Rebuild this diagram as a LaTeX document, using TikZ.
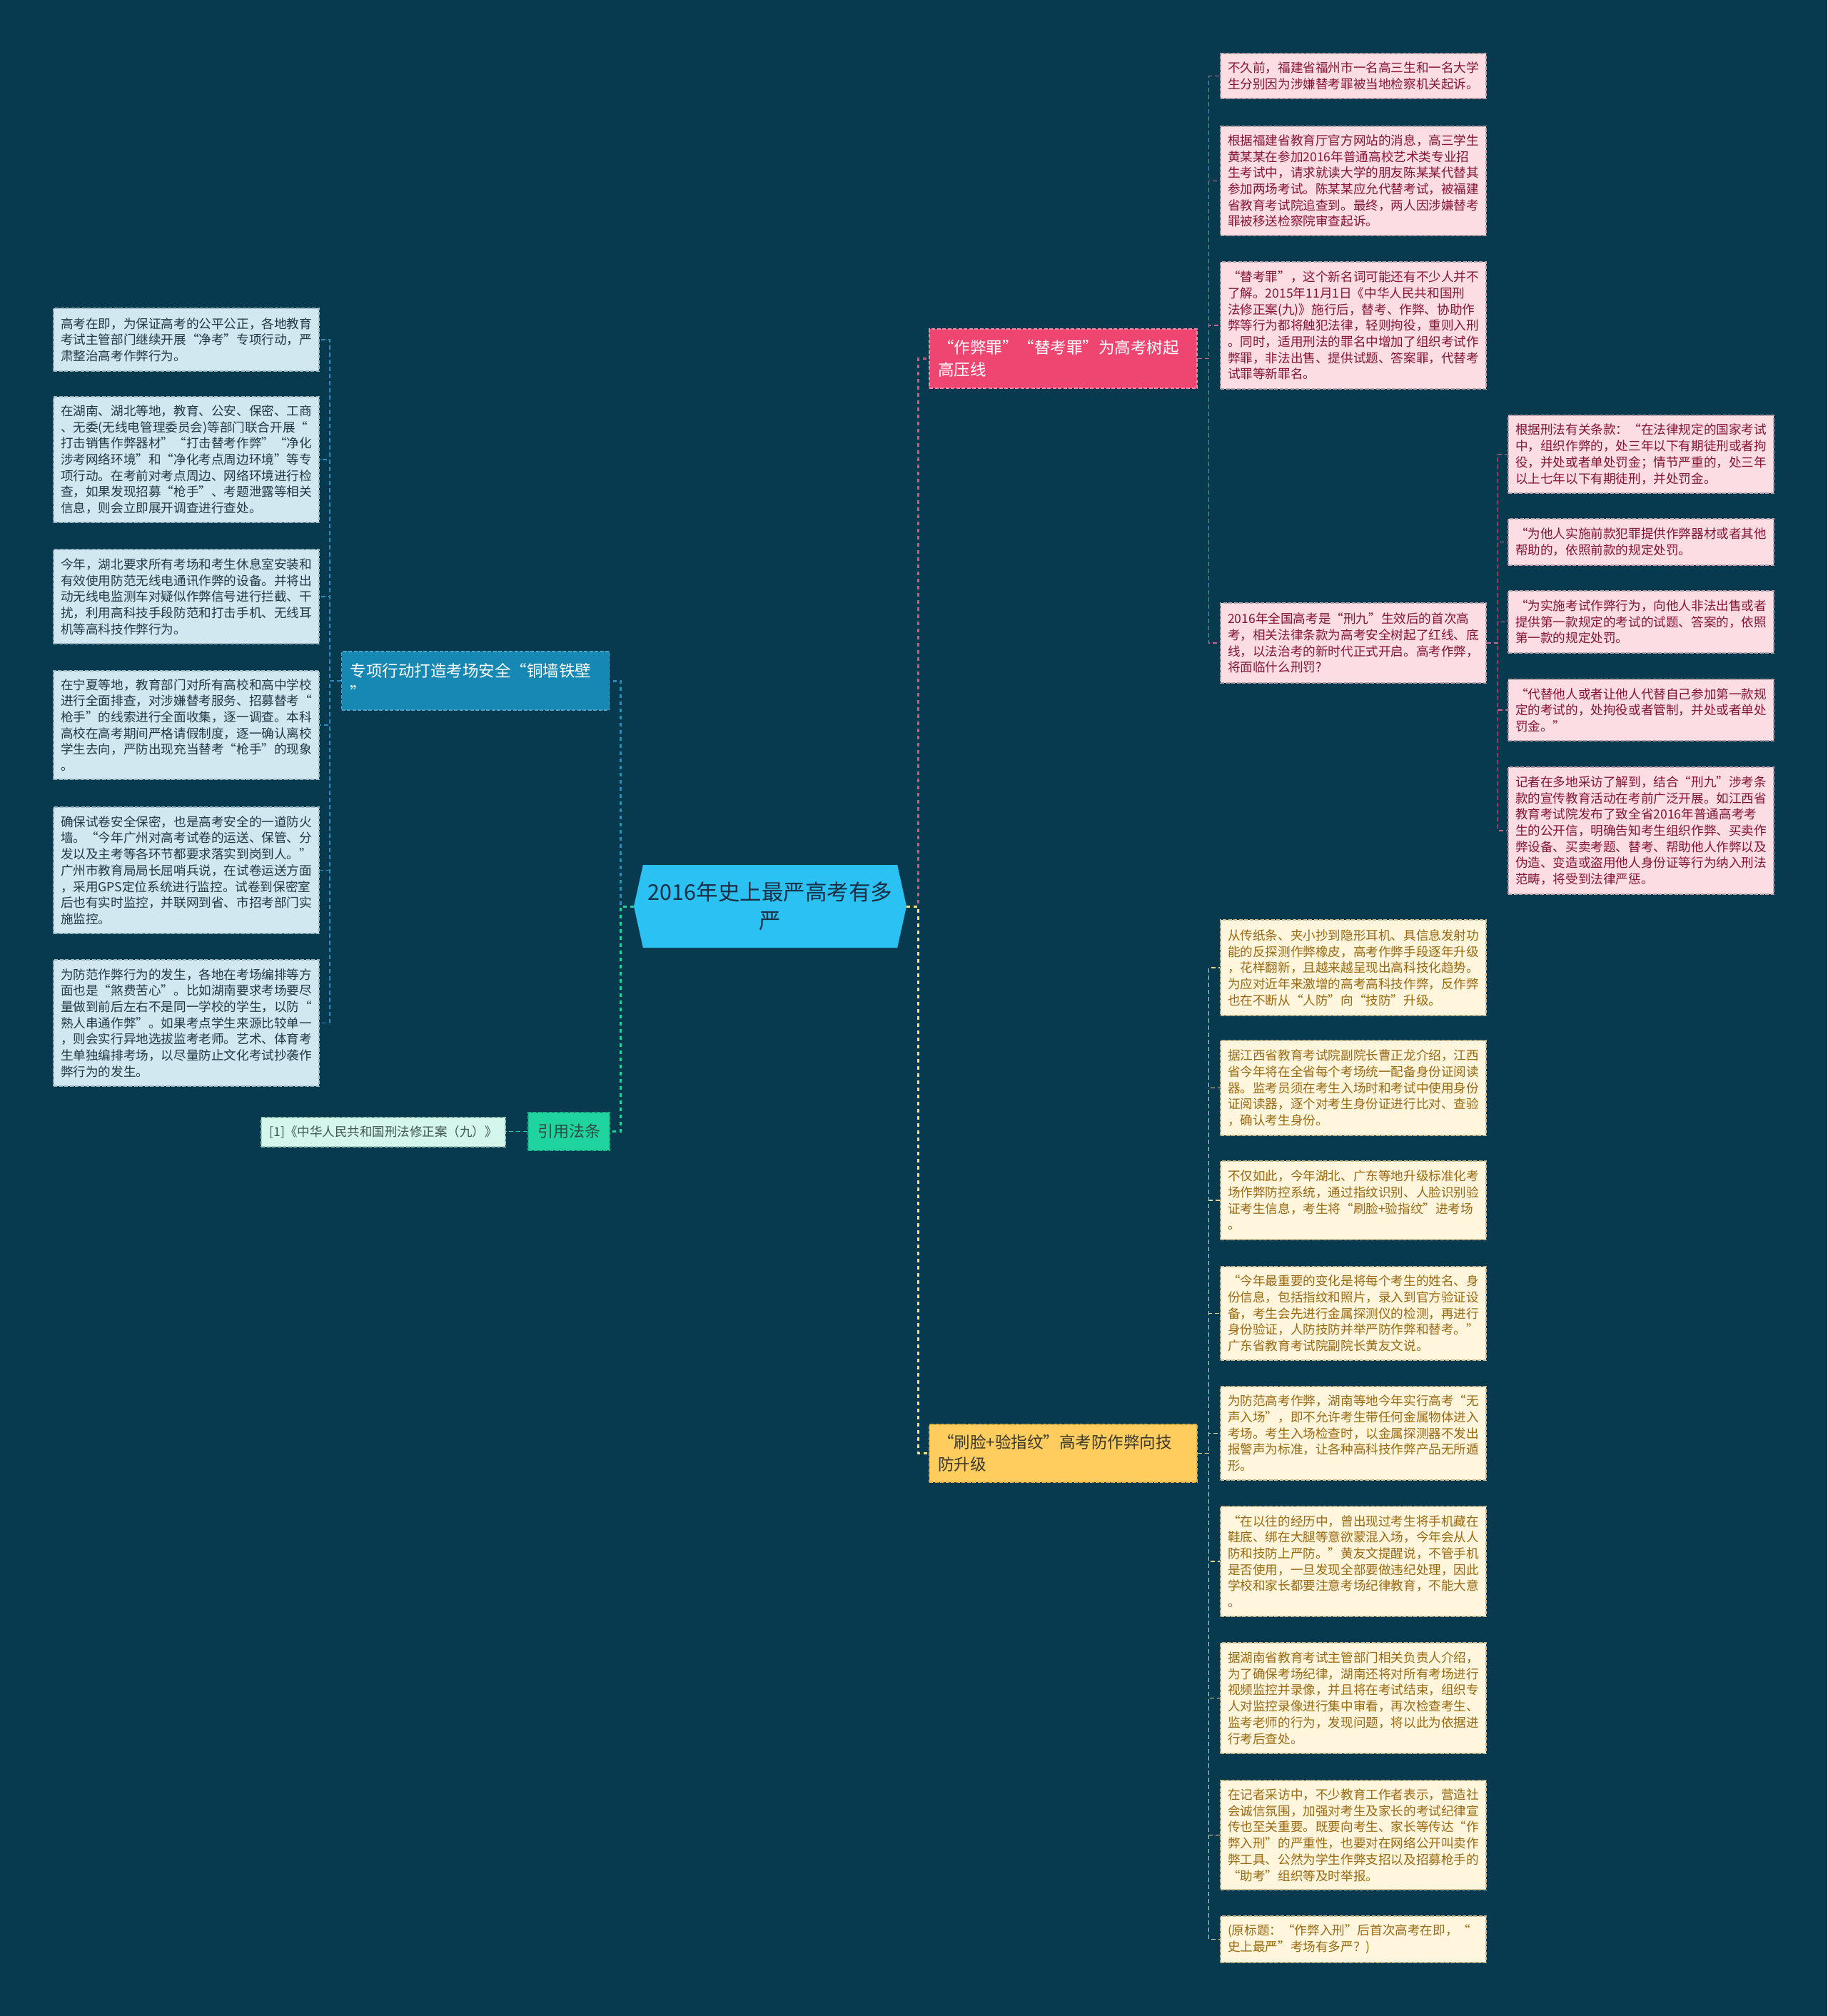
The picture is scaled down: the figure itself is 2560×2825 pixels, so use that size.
\documentclass[tikz,border=0pt]{standalone}
\usepackage{fontspec}
\newfontfamily\cjk{Noto Sans CJK SC}
\usetikzlibrary{shapes.symbols}
\definecolor{bgc}{HTML}{073A4F}
\definecolor{cfill}{HTML}{2BC1F2}
\definecolor{ctext}{HTML}{1A2E44}
\definecolor{pbfill}{HTML}{EE4571}
\definecolor{pbdraw}{HTML}{F58AA6}
\definecolor{ybfill}{HTML}{FFCD5E}
\definecolor{ybdraw}{HTML}{E0AE3C}
\definecolor{ybtext}{HTML}{3B3A2C}
\definecolor{bbfill}{HTML}{1787B3}
\definecolor{bbdraw}{HTML}{4AA6CC}
\definecolor{gbfill}{HTML}{1FD49E}
\definecolor{gbdraw}{HTML}{15B888}
\definecolor{gbtext}{HTML}{2C4A4A}
\definecolor{plfill}{HTML}{FBDDE3}
\definecolor{pltext}{HTML}{851535}
\definecolor{pldraw}{HTML}{B8A0A8}
\definecolor{blfill}{HTML}{D2E8F1}
\definecolor{bltext}{HTML}{213946}
\definecolor{bldraw}{HTML}{9AB5C2}
\definecolor{ylfill}{HTML}{FFF6DD}
\definecolor{yltext}{HTML}{9A6912}
\definecolor{yldraw}{HTML}{C9B98A}
\definecolor{rlfill}{HTML}{D5F6EC}
\definecolor{rltext}{HTML}{3F5552}
\definecolor{rldraw}{HTML}{9CC8B8}
\definecolor{pinkm}{HTML}{C45F82}
\definecolor{pinks}{HTML}{C46A8A}
\definecolor{yelm}{HTML}{F2E28E}
\definecolor{yels}{HTML}{E7D790}
\definecolor{bluem}{HTML}{2A8CB8}
\definecolor{greenm}{HTML}{1FD49E}
\begin{document}
\begin{tikzpicture}[x=1pt,y=-1pt,
  cnode/.style={signal, signal to=west and east, signal pointer angle=155,
    fill=cfill, text=ctext, minimum width=382pt, minimum height=116pt,
    inner sep=0pt, text width=350pt, align=center,
    font=\cjk\fontsize{30.5}{40}\selectfont},
  branch/.style={rectangle, text width=351pt, inner xsep=12pt, inner ysep=3pt,
    align=left, font=\cjk\fontsize{22.5}{31}\selectfont, line width=1.2pt,
    dash pattern=on 5pt off 2.5pt},
  leafbox/.style={rectangle, text width=352pt, inner xsep=10pt, inner ysep=3pt,
    align=left, font=\cjk\fontsize{17.6}{22.7}\selectfont, line width=1.2pt,
    dash pattern=on 5pt off 2.5pt},
  pleaf/.style={leafbox, fill=plfill, draw=pldraw, text=pltext},
  bleaf/.style={leafbox, fill=blfill, draw=bldraw, text=bltext},
  yleaf/.style={leafbox, fill=ylfill, draw=yldraw, text=yltext},
  mline/.style={line width=3pt, dash pattern=on 5pt off 5pt},
  sline/.style={line width=1.3pt, dash pattern=on 6pt off 4pt}
]
\fill[bgc] (0,0) rectangle (2560,2825);
\useasboundingbox (0,0) rectangle (2560,2825);

% centre
\node[cnode] (c) at (1079,1270) {2016年史上最严高考有多\\严};

% main branches
\node[branch, fill=pbfill, draw=pbdraw, text=white, minimum height=83pt] (pb) at (1489.5,502.5)
  {“作弊罪”“替考罪”为高考树起\\高压线};
\node[branch, fill=ybfill, draw=ybdraw, text=ybtext, minimum height=81pt] (yb) at (1489.5,2036.5)
  {“刷脸+验指纹”高考防作弊向技\\防升级};
\node[branch, fill=bbfill, draw=bbdraw, text=white, minimum height=82pt] (bb) at (666,954)
  {专项行动打造考场安全“铜墙铁壁\\”};
\node[rectangle, fill=gbfill, draw=gbdraw, text=gbtext, line width=1.2pt, dash pattern=on 5pt off 2.5pt,
  minimum width=114pt, minimum height=53pt, inner sep=0pt,
  font=\cjk\fontsize{22}{26}\selectfont] (gb) at (797,1585.5) {引用法条};
\node[rectangle, fill=rlfill, draw=rldraw, text=rltext, line width=1.2pt, dash pattern=on 5pt off 2.5pt,
  minimum width=342pt, minimum height=41pt, inner sep=0pt,
  font=\cjk\fontsize{17.5}{22}\selectfont] (rf) at (537,1586.5) {[1]《中华人民共和国刑法修正案（九）》};

% pink leaves
\node[pleaf, minimum height=63pt] (p1) at (1896,106.5) {不久前，福建省福州市一名高三生和一名大学\\生分别因为涉嫌替考罪被当地检察机关起诉。};
\node[pleaf, minimum height=153pt] (p2) at (1896,253.5) {根据福建省教育厅官方网站的消息，高三学生\\黄某某在参加2016年普通高校艺术类专业招\\生考试中，请求就读大学的朋友陈某某代替其\\参加两场考试。陈某某应允代替考试，被福建\\省教育考试院追查到。最终，两人因涉嫌替考\\罪被移送检察院审查起诉。};
\node[pleaf, minimum height=178pt] (p3) at (1896,456) {“替考罪”，这个新名词可能还有不少人并不\\了解。2015年11月1日《中华人民共和国刑\\法修正案(九)》施行后，替考、作弊、协助作\\弊等行为都将触犯法律，轻则拘役，重则入刑\\。同时，适用刑法的罪名中增加了组织考试作\\弊罪，非法出售、提供试题、答案罪，代替考\\试罪等新罪名。};
\node[pleaf, minimum height=112pt] (p4) at (1896,901) {2016年全国高考是“刑九”生效后的首次高\\考，相关法律条款为高考安全树起了红线、底\\线，以法治考的新时代正式开启。高考作弊，\\将面临什么刑罚?};

\node[pleaf, minimum height=109pt] (q1) at (2299,636.5) {根据刑法有关条款：“在法律规定的国家考试\\中，组织作弊的，处三年以下有期徒刑或者拘\\役，并处或者单处罚金；情节严重的，处三年\\以上七年以下有期徒刑，并处罚金。};
\node[pleaf, minimum height=65pt] (q2) at (2299,759.5) {“为他人实施前款犯罪提供作弊器材或者其他\\帮助的，依照前款的规定处罚。};
\node[pleaf, minimum height=87pt] (q3) at (2299,871.5) {“为实施考试作弊行为，向他人非法出售或者\\提供第一款规定的考试的试题、答案的，依照\\第一款的规定处罚。};
\node[pleaf, minimum height=86pt] (q4) at (2299,995) {“代替他人或者让他人代替自己参加第一款规\\定的考试的，处拘役或者管制，并处或者单处\\罚金。”};
\node[pleaf, minimum height=178pt] (q5) at (2299,1164) {记者在多地采访了解到，结合“刑九”涉考条\\款的宣传教育活动在考前广泛开展。如江西省\\教育考试院发布了致全省2016年普通高考考\\生的公开信，明确告知考生组织作弊、买卖作\\弊设备、买卖考题、替考、帮助他人作弊以及\\伪造、变造或盗用他人身份证等行为纳入刑法\\范畴，将受到法律严惩。};

% yellow leaves
\node[yleaf, minimum height=134pt] (y1) at (1896,1356) {从传纸条、夹小抄到隐形耳机、具信息发射功\\能的反探测作弊橡皮，高考作弊手段逐年升级\\，花样翻新，且越来越呈现出高科技化趋势。\\为应对近年来激增的高考高科技作弊，反作弊\\也在不断从“人防”向“技防”升级。};
\node[yleaf, minimum height=133pt] (y2) at (1896,1524.5) {据江西省教育考试院副院长曹正龙介绍，江西\\省今年将在全省每个考场统一配备身份证阅读\\器。监考员须在考生入场时和考试中使用身份\\证阅读器，逐个对考生身份证进行比对、查验\\，确认考生身份。};
\node[yleaf, minimum height=110pt] (y3) at (1896,1682) {不仅如此，今年湖北、广东等地升级标准化考\\场作弊防控系统，通过指纹识别、人脸识别验\\证考生信息，考生将“刷脸+验指纹”进考场\\。};
\node[yleaf, minimum height=131pt] (y4) at (1896,1840.5) {“今年最重要的变化是将每个考生的姓名、身\\份信息，包括指纹和照片，录入到官方验证设\\备，考生会先进行金属探测仪的检测，再进行\\身份验证，人防技防并举严防作弊和替考。”\\广东省教育考试院副院长黄友文说。};
\node[yleaf, minimum height=131pt] (y5) at (1896,2008.5) {为防范高考作弊，湖南等地今年实行高考“无\\声入场”，即不允许考生带任何金属物体进入\\考场。考生入场检查时，以金属探测器不发出\\报警声为标准，让各种高科技作弊产品无所遁\\形。};
\node[yleaf, minimum height=154pt] (y6) at (1896,2188) {“在以往的经历中，曾出现过考生将手机藏在\\鞋底、绑在大腿等意欲蒙混入场，今年会从人\\防和技防上严防。”黄友文提醒说，不管手机\\是否使用，一旦发现全部要做违纪处理，因此\\学校和家长都要注意考场纪律教育，不能大意\\。};
\node[yleaf, minimum height=155pt] (y7) at (1896,2379.5) {据湖南省教育考试主管部门相关负责人介绍，\\为了确保考场纪律，湖南还将对所有考场进行\\视频监控并录像，并且将在考试结束，组织专\\人对监控录像进行集中审看，再次检查考生、\\监考老师的行为，发现问题，将以此为依据进\\行考后查处。};
\node[yleaf, minimum height=153pt] (y8) at (1896,2571.5) {在记者采访中，不少教育工作者表示，营造社\\会诚信氛围，加强对考生及家长的考试纪律宣\\传也至关重要。既要向考生、家长等传达“作\\弊入刑”的严重性，也要对在网络公开叫卖作\\弊工具、公然为学生作弊支招以及招募枪手的\\“助考”组织等及时举报。};
\node[yleaf, minimum height=65pt] (y9) at (1896,2717.5) {(原标题：“作弊入刑”后首次高考在即，“\\史上最严”考场有多严？)};

% blue leaves
\node[bleaf, minimum height=88pt] (l1) at (261,476) {高考在即，为保证高考的公平公正，各地教育\\考试主管部门继续开展“净考”专项行动，严\\肃整治高考作弊行为。};
\node[bleaf, minimum height=176pt] (l2) at (261,644) {在湖南、湖北等地，教育、公安、保密、工商\\、无委(无线电管理委员会)等部门联合开展“\\打击销售作弊器材”“打击替考作弊”“净化\\涉考网络环境”和“净化考点周边环境”等专\\项行动。在考前对考点周边、网络环境进行检\\查，如果发现招募“枪手”、考题泄露等相关\\信息，则会立即展开调查进行查处。};
\node[bleaf, minimum height=132pt] (l3) at (261,836) {今年，湖北要求所有考场和考生休息室安装和\\有效使用防范无线电通讯作弊的设备。并将出\\动无线电监测车对疑似作弊信号进行拦截、干\\扰，利用高科技手段防范和打击手机、无线耳\\机等高科技作弊行为。};
\node[bleaf, minimum height=152pt] (l4) at (261,1016) {在宁夏等地，教育部门对所有高校和高中学校\\进行全面排查，对涉嫌替考服务、招募替考“\\枪手”的线索进行全面收集，逐一调查。本科\\高校在高考期间严格请假制度，逐一确认离校\\学生去向，严防出现充当替考“枪手”的现象\\。};
\node[bleaf, minimum height=177pt] (l5) at (261,1219.5) {确保试卷安全保密，也是高考安全的一道防火\\墙。“今年广州对高考试卷的运送、保管、分\\发以及主考等各环节都要求落实到岗到人。”\\广州市教育局局长屈哨兵说，在试卷运送方面\\，采用GPS定位系统进行监控。试卷到保密室\\后也有实时监控，并联网到省、市招考部门实\\施监控。};
\node[bleaf, minimum height=177pt] (l6) at (261,1433.5) {为防范作弊行为的发生，各地在考场编排等方\\面也是“煞费苦心”。比如湖南要求考场要尽\\量做到前后左右不是同一学校的学生，以防“\\熟人串通作弊”。如果考点学生来源比较单一\\，则会实行异地选拔监考老师。艺术、体育考\\生单独编排考场，以尽量防止文化考试抄袭作\\弊行为的发生。};

% connectors: centre to branches
\draw[mline, draw=pinkm] (c.east) -- ++(16,0) |- (pb.west);
\draw[mline, draw=yelm] (c.east) -- ++(16,0) |- (yb.west);
\draw[mline, draw=bluem] (c.west) -- ++(-18,0) |- (bb.east);
\draw[mline, draw=greenm] (c.west) -- ++(-18,0) |- (gb.east);

% connectors: branches to leaves
\foreach \n in {1,...,4} \draw[sline, draw=pinks] (pb.east) -- ++(16,0) |- (p\n.west);
\foreach \n in {1,...,5} \draw[sline, draw=pinks] (p4.east) -- ++(16,0) |- (q\n.west);
\foreach \n in {1,...,9} \draw[sline, draw=yels] (yb.east) -- ++(16,0) |- (y\n.west);
\foreach \n in {1,...,6} \draw[sline, draw=bluem] (bb.west) -- ++(-16,0) |- (l\n.east);
\draw[sline, draw=greenm] (gb.west) -- (gb.west -| rf.east);
\end{tikzpicture}
\end{document}
